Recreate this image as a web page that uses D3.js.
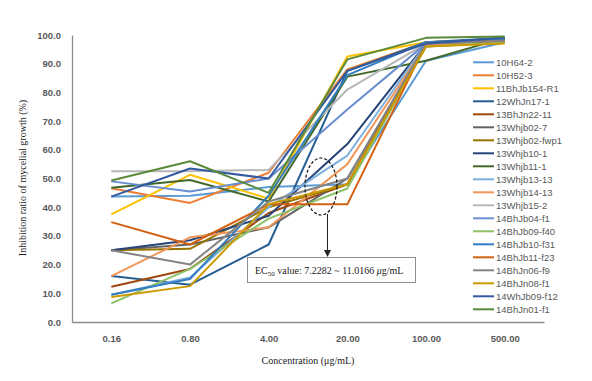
<!DOCTYPE html>
<html><head><meta charset="utf-8">
<script src="https://cdn.jsdelivr.net/npm/d3@7"></script>
<style>body{margin:0;background:#fff}svg{display:block}</style>
</head><body>
<svg id="c" width="592" height="381"></svg>
<script>
const categories = ["0.16","0.80","4.00","20.00","100.00","500.00"];
const seriesNames = ["10H64-2","10H52-3","11BhJb154-R1","12WhJn17-1","13BhJn22-11","13Whjb02-7","13Whjb02-fwp1","13Whjb10-1","13Whjb11-1","13Whjb13-13","13Whjb14-13","13Whjb15-2","14BhJb04-f1","14BhJb09-f40","14BhJb10-f31","14BhJb11-f23","14BhJn06-f9","14BhJn08-f1","14WhJb09-f12","14BhJn01-f1"];
const seriesColors = ["#5B9BD5","#ED7D31","#FFC000","#255E91","#9E480E","#636363","#997300","#264478","#43682B","#7CAFDD","#F1975A","#B7B7B7","#698ED0","#8CC168","#327DC2","#D26012","#848484","#CC9A00","#335AA1","#5A8A39"];
const s_10H64_2      = [43.7, 44.0, 47.0, 48.0, 91.0, 97.5];
const s_10H52_3      = [46.6, 41.5, 52.0, 88.0, 97.5, 98.5];
const s_11BhJb154_R1 = [37.5, 51.3, 43.0, 92.5, 97.5, 98.5];
const s_12WhJn17_1   = [16.0, 13.0, 27.0, 87.5, 97.5, 99.0];
const s_13BhJn22_11  = [12.3, 18.5, 38.0, 48.0, 97.0, 98.0];
const s_13Whjb02_7   = [25.0, 27.0, 33.0, 50.0, 96.5, 98.0];
const s_13Whjb02_fwp1= [25.0, 25.5, 40.0, 48.0, 96.0, 97.5];
const s_13Whjb10_1   = [25.0, 28.5, 37.0, 62.0, 97.0, 98.0];
const s_13Whjb11_1   = [46.8, 49.5, 42.0, 85.5, 91.0, 99.0];
const s_13Whjb13_13  = [9.5, 15.5, 40.0, 58.0, 97.0, 98.0];
const s_13Whjb14_13  = [16.0, 29.5, 33.0, 55.0, 96.5, 97.5];
const s_13Whjb15_2   = [52.5, 52.5, 53.0, 81.0, 97.0, 98.0];
const s_14BhJb04_f1  = [49.0, 45.5, 50.0, 74.0, 97.0, 98.0];
const s_14BhJb09_f40 = [6.5, 18.5, 36.0, 46.5, 96.0, 97.5];
const s_14BhJb10_f31 = [9.5, 15.0, 44.0, 86.0, 97.5, 98.5];
const s_14BhJb11_f23 = [34.8, 27.0, 41.0, 41.0, 97.0, 98.0];
const s_14BhJn06_f9  = [25.0, 20.0, 42.0, 50.0, 97.0, 98.0];
const s_14BhJn08_f1  = [8.7, 12.5, 41.0, 48.0, 96.0, 97.0];
const s_14WhJb09_f12 = [43.7, 53.5, 50.0, 87.5, 97.0, 99.0];
const s_14BhJn01_f1  = [49.3, 56.0, 45.0, 91.5, 99.0, 99.5];
const seriesValues = [s_10H64_2,s_10H52_3,s_11BhJb154_R1,s_12WhJn17_1,s_13BhJn22_11,s_13Whjb02_7,s_13Whjb02_fwp1,s_13Whjb10_1,s_13Whjb11_1,s_13Whjb13_13,s_13Whjb14_13,s_13Whjb15_2,s_14BhJb04_f1,s_14BhJb09_f40,s_14BhJb10_f31,s_14BhJb11_f23,s_14BhJn06_f9,s_14BhJn08_f1,s_14WhJb09_f12,s_14BhJn01_f1];
const yTicks = [0,10,20,30,40,50,60,70,80,90,100];

const svg = d3.select("#c");
const L = 72, R = 544, T = 35, B = 322;
const x = d3.scalePoint().domain(categories).range([L, R]).padding(0.5);
const y = d3.scaleLinear().domain([0, 100]).range([B, T]);

// axes
const yAxis = svg.append("g").attr("transform", `translate(${L},0)`)
  .call(d3.axisLeft(y).tickValues(yTicks).tickFormat(d3.format(".1f")).tickSize(0).tickPadding(11));
const xAxis = svg.append("g").attr("transform", `translate(0,${B})`)
  .call(d3.axisBottom(x).tickSize(0).tickPadding(13));
[yAxis, xAxis].forEach(g => {
  g.select(".domain").attr("stroke", "#8c8c8c").attr("stroke-width", 1.3);
  g.selectAll("text").attr("font-family", "Liberation Sans, Arial, sans-serif")
    .attr("font-size", 9.5).attr("font-weight", "bold").attr("fill", "#595959");
});

// lines
const line = d3.line().x((d, i) => x(categories[i])).y(d => y(d));
svg.append("g").selectAll("path").data(seriesValues).join("path")
  .attr("d", d => line(d)).attr("fill", "none")
  .attr("stroke", (d, i) => seriesColors[i]).attr("stroke-width", 2)
  .attr("stroke-linejoin", "round");

// legend
const lg = svg.append("g");
seriesNames.forEach((n, i) => {
  const yy = 62.3 + i * 13;
  lg.append("line").attr("x1", 473).attr("x2", 494).attr("y1", yy).attr("y2", yy)
    .attr("stroke", seriesColors[i]).attr("stroke-width", 2);
  lg.append("text").attr("x", 496).attr("y", yy + 3.4).text(n)
    .attr("font-family", "Liberation Sans, Arial, sans-serif").attr("font-size", 9.5).attr("fill", "#595959");
});

// axis titles
svg.append("text").attr("transform", "translate(26,178) rotate(-90)").attr("text-anchor", "middle")
  .attr("font-family", "Liberation Serif, Times New Roman, serif").attr("font-size", 10).attr("fill", "#222")
  .text("Inhibition ratio of mycelial growth (%)");
svg.append("text").attr("x", 308).attr("y", 364).attr("text-anchor", "middle")
  .attr("font-family", "Liberation Serif, Times New Roman, serif").attr("font-size", 10).attr("fill", "#222")
  .text("Concentration (μg/mL)");

// annotation
svg.append("ellipse").attr("cx", 321).attr("cy", 186.5).attr("rx", 16).attr("ry", 28.5)
  .attr("fill", "none").attr("stroke", "#111").attr("stroke-width", 1.2).attr("stroke-dasharray", "3,2");
svg.append("line").attr("x1", 327.5).attr("x2", 327.5).attr("y1", 214).attr("y2", 251)
  .attr("stroke", "#222").attr("stroke-width", 1);
svg.append("path").attr("d", "M324,250 L331,250 L327.5,257 Z").attr("fill", "#222");
svg.append("rect").attr("x", 247.5).attr("y", 257.5).attr("width", 168).attr("height", 25)
  .attr("fill", "#fff").attr("stroke", "#8c8c8c").attr("stroke-width", 1);
const t = svg.append("text").attr("x", 255).attr("y", 273.5)
  .attr("font-family", "Liberation Serif, Times New Roman, serif").attr("font-size", 10).attr("fill", "#222");
t.append("tspan").text("EC");
t.append("tspan").attr("font-size", 7).attr("dy", 2).text("50");
t.append("tspan").attr("dy", -2).text(" value: 7.2282 ~ 11.0166 ");
t.append("tspan").attr("font-style", "italic").text("μ");
t.append("tspan").text("g/mL");
</script>
</body></html>
